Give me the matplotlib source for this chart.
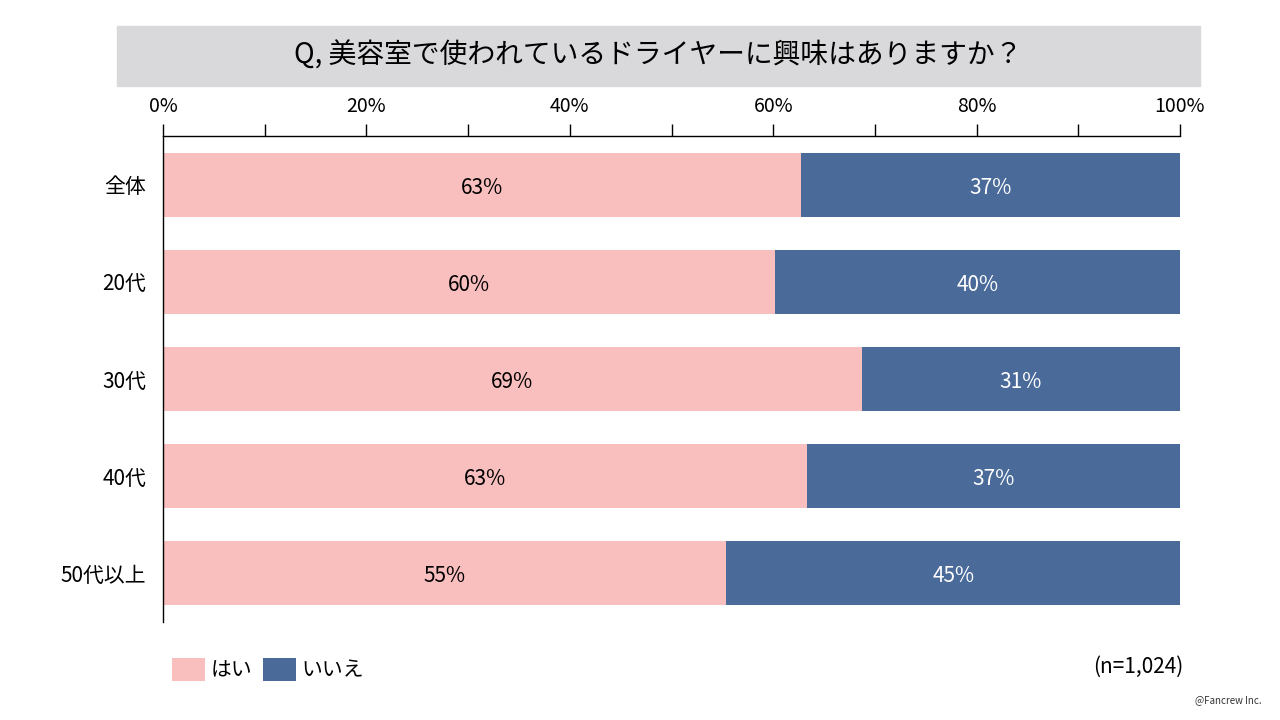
import matplotlib.pyplot as plt
from matplotlib.patches import Rectangle

plt.rcParams['font.family'] = ['Noto Sans CJK JP', 'DejaVu Sans']

categories = ['全体', '20代', '30代', '40代', '50代以上']
yes_vals = [62.7, 60.2, 68.7, 63.3, 55.4]
no_vals = [37.3, 39.8, 31.3, 36.7, 44.6]
yes_labels = ['63%', '60%', '69%', '63%', '55%']
no_labels = ['37%', '40%', '31%', '37%', '45%']
ticks = [0, 10, 20, 30, 40, 50, 60, 70, 80, 90, 100]
tick_labels = ['0%', '', '20%', '', '40%', '', '60%', '', '80%', '', '100%']

pink = '#f9bebe'
blue = '#4a6a9a'

fig = plt.figure(figsize=(12.8, 7.2), dpi=100)
ax = fig.add_axes([163 / 1280, 1 - 622 / 720, 1017 / 1280, 486 / 720])

y = range(len(categories))
ax.barh(y, yes_vals, height=0.66, color=pink, label='はい')
ax.barh(y, no_vals, left=yes_vals, height=0.66, color=blue, label='いいえ')

for i in y:
    ax.text(yes_vals[i] / 2, i + 0.03, yes_labels[i], ha='center', va='center',
            fontsize=15, color='black')
    ax.text(yes_vals[i] + no_vals[i] / 2, i + 0.03, no_labels[i], ha='center',
            va='center', fontsize=15, color='white')

ax.set_xlim(0, 100)
ax.set_ylim(4.5, -0.5)
ax.xaxis.tick_top()
ax.set_xticks(ticks)
ax.set_xticklabels(tick_labels, fontsize=14)
ax.tick_params(axis='x', direction='out', length=9, width=1, pad=5)
ax.set_yticks(list(y))
ax.set_yticklabels(categories, fontsize=15)
ax.tick_params(axis='y', length=0, pad=12)
for s in ['right', 'bottom']:
    ax.spines[s].set_visible(False)
ax.spines['top'].set_linewidth(1)
ax.spines['left'].set_linewidth(1)

# title box
fig.patches.append(Rectangle((117 / 1280, 1 - 86 / 720), 1083 / 1280, 60 / 720,
                             transform=fig.transFigure, color='#d9d9dc',
                             zorder=0))
fig.text(658 / 1280, 1 - 56 / 720, 'Q, 美容室で使われているドライヤーに興味はありますか？',
         ha='center', va='center', fontsize=20)

fig.legend(loc='center left', bbox_to_anchor=(172 / 1280, 1 - 670 / 720),
           ncol=2, frameon=False, fontsize=15, handlelength=1.6,
           handleheight=1.25, handletextpad=0.25, columnspacing=0.5,
           borderpad=0, borderaxespad=0)

fig.text(1183 / 1280, 1 - 667 / 720, '(n=1,024)', ha='right', va='center',
         fontsize=15)
fig.text(1262 / 1280, 1 - 700 / 720, '@Fancrew Inc.', ha='right', va='center',
         fontsize=7, color='#333333')

fig.savefig('out.png', dpi=100)
